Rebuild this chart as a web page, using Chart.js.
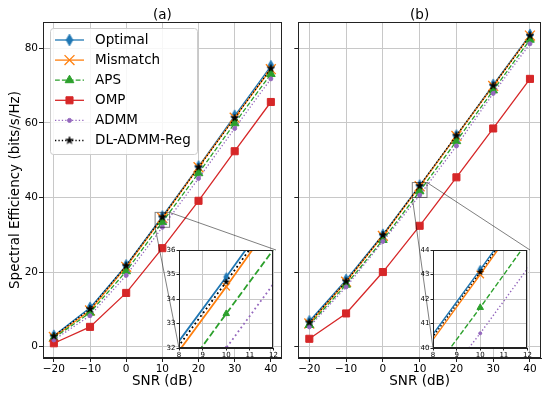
<!DOCTYPE html>
<html>
<head>
<meta charset="utf-8">
<script src="https://cdn.jsdelivr.net/npm/chart.js@4.4.0/dist/chart.umd.min.js"></script>
<style>
  html, body { margin: 0; padding: 0; background: #fff; }
  #wrap { position: relative; width: 550px; height: 395px; overflow: hidden; }
  #wrap canvas { position: absolute; }
</style>
</head>
<body>
<div id="wrap">
  <canvas id="mainA" width="290" height="395" style="left:0;top:0"></canvas>
  <canvas id="mainB" width="260" height="395" style="left:290px;top:0"></canvas>
  <canvas id="insetA" width="121" height="126" style="left:159px;top:240px"></canvas>
  <canvas id="insetB" width="121" height="126" style="left:413px;top:240px"></canvas>
</div>
<script>
var snr = [-20, -10, 0, 10, 20, 30, 40];
var xTicks = [-20, -10, 0, 10, 20, 30, 40];
var yTicks = [0, 20, 40, 60, 80];
var insetXTicks = [8, 9, 10, 11, 12];
var insetYTicksA = [32, 33, 34, 35, 36];
var insetYTicksB = [40, 41, 42, 43, 44];
var labels = ['Optimal', 'Mismatch', 'APS', 'OMP', 'ADMM', 'DL-ADMM-Reg'];

// panel (a)
var optimalA  = [2.9, 10.4, 21.8, 34.9, 48.3, 61.9, 75.2];
var mismatchA = [2.6, 9.7, 21.4, 34.5, 48.1, 61.4, 74.4];
var apsA      = [2.3, 9.1, 20.2, 33.4, 46.5, 59.9, 73.1];
var ompA      = [0.9, 5.3, 14.4, 26.4, 39.1, 52.4, 65.6];
var admmA     = [1.8, 8.3, 19.1, 32.0, 45.1, 58.5, 71.8];
var dlA       = [2.8, 10.1, 21.7, 34.7, 48.1, 61.3, 74.6];

// panel (b)
var optimalB  = [6.8, 17.9, 30.0, 43.2, 56.6, 70.2, 83.6];
var mismatchB = [6.2, 17.4, 29.7, 43.0, 56.5, 69.9, 83.4];
var apsB      = [5.8, 16.6, 28.6, 41.65, 55.1, 68.7, 82.3];
var ompB      = [2.1, 8.9, 20.0, 32.4, 45.4, 58.5, 71.8];
var admmB     = [5.3, 16.0, 28.2, 40.6, 53.8, 67.9, 81.2];
var dlB       = [6.5, 17.5, 29.9, 43.1, 56.6, 70.0, 83.4];

var FONT = 'DejaVu Sans';
Chart.defaults.font.family = FONT;

var styles = [
  {color: '#1f77b4', dash: [], marker: 'diamond', r: 6},
  {color: '#ff7f0e', dash: [], marker: 'crossRot', r: 7},
  {color: '#2ca02c', dash: [4.8, 2.1], marker: 'triangle', r: 5},
  {color: '#d62728', dash: [], marker: 'rect', r: 5},
  {color: '#9467bd', dash: [1.3, 2.1], marker: 'circle', r: 2},
  {color: '#000000', dash: [1.3, 2.1], marker: 'star', r: 4}
];

// filled thin diamond / star as small canvases
function markerImage(kind, color, s){
  var c = document.createElement('canvas');
  c.width = c.height = Math.ceil(s * 2 + 2);
  var g = c.getContext('2d');
  var m = c.width / 2;
  g.fillStyle = color;
  g.strokeStyle = color;
  g.lineWidth = 0.6;
  g.beginPath();
  if(kind == 'diamond'){
    g.moveTo(m, m - s); g.lineTo(m + s * 0.58, m); g.lineTo(m, m + s); g.lineTo(m - s * 0.58, m);
  } else {
    for(var i = 0; i < 10; i++){
      var a = -Math.PI / 2 + i * Math.PI / 5;
      var rr = i % 2 ? s * 0.4 : s;
      g.lineTo(m + rr * Math.cos(a), m + rr * Math.sin(a));
    }
  }
  g.closePath();
  g.fill();
  g.stroke();
  return c;
}

function pointFor(st, k){
  if(st.marker == 'diamond' || st.marker == 'star') return markerImage(st.marker, st.color, st.r * k);
  return st.marker;
}

function buildSets(series, k, lw, clip){
  return series.map(function(vals, i){
    var st = styles[i];
    return {
      label: labels[i],
      data: snr.map(function(x, j){ return {x: x, y: vals[j]}; }),
      borderColor: st.color,
      backgroundColor: st.color,
      borderWidth: lw,
      borderDash: st.dash.map(function(d){ return d * lw / 1.3; }),
      pointStyle: pointFor(st, k),
      pointRadius: st.r * k,
      pointBorderWidth: st.marker == 'crossRot' ? 1.3 : 1,
      pointBorderColor: st.color,
      pointBackgroundColor: st.color,
      tension: 0,
      order: series.length - i,
      clip: clip
    };
  });
}

var framePlugin = {
  id: 'frame',
  afterDatasetsDraw: function(chart){
    var a = chart.chartArea, ctx = chart.ctx;
    ctx.save();
    ctx.strokeStyle = '#222';
    ctx.lineWidth = 1;
    ctx.strokeRect(Math.round(a.left) + 0.5, Math.round(a.top) + 0.5, Math.round(a.right - a.left) - 1, Math.round(a.bottom - a.top) - 1);
    ctx.restore();
  }
};

var whiteBg = {
  id: 'whiteBg',
  beforeDraw: function(chart){
    var a = chart.chartArea;
    chart.ctx.save();
    chart.ctx.fillStyle = '#fff';
    chart.ctx.fillRect(a.left, a.top, a.right - a.left, a.bottom - a.top);
    chart.ctx.restore();
  }
};

// zoom box + connector lines to the inset corners
function zoomPlugin(box, offsetX, yr){
  return {
    id: 'zoomMark',
    afterDatasetsDraw: function(chart){
      var x = chart.scales.x, y = chart.scales.y, ctx = chart.ctx;
      var x0 = x.getPixelForValue(8), x1 = x.getPixelForValue(12);
      var y0 = y.getPixelForValue(yr[0]), y1 = y.getPixelForValue(yr[1]);
      ctx.save();
      ctx.strokeStyle = 'rgba(0,0,0,0.5)';
      ctx.lineWidth = 1;
      ctx.strokeRect(x0, y1, x1 - x0, y0 - y1);
      ctx.beginPath();
      ctx.moveTo(x0, y0); ctx.lineTo(box.left - offsetX, box.top + box.height);
      ctx.moveTo(x1, y1); ctx.lineTo(box.left + box.width - offsetX, box.top);
      ctx.stroke();
      ctx.restore();
    }
  };
}

function titlePlugin(text){
  return {
    id: 'panelTitle',
    afterDraw: function(chart){
      var a = chart.chartArea, ctx = chart.ctx;
      ctx.save();
      ctx.font = '13.5px "' + FONT + '"';
      ctx.fillStyle = '#000';
      ctx.textAlign = 'center';
      ctx.textBaseline = 'middle';
      ctx.fillText(text, (a.left + a.right) / 2, 15);
      ctx.restore();
    }
  };
}

var legendPlugin = {
  id: 'boxLegend',
  afterDraw: function(chart){
    var ctx = chart.ctx;
    ctx.save();
    ctx.fillStyle = 'rgba(255,255,255,0.85)';
    ctx.strokeStyle = '#cccccc';
    ctx.lineWidth = 1;
    ctx.beginPath();
    ctx.roundRect(50.5, 28.5, 147, 126, 3);
    ctx.fill();
    ctx.stroke();
    ctx.font = '13.5px "' + FONT + '"';
    ctx.textBaseline = 'middle';
    chart.data.datasets.forEach(function(ds, i){
      var yy = 40 + i * 20.1;
      ctx.strokeStyle = ds.borderColor;
      ctx.lineWidth = ds.borderWidth;
      ctx.setLineDash(ds.borderDash);
      ctx.beginPath();
      ctx.moveTo(55, yy); ctx.lineTo(84, yy);
      ctx.stroke();
      ctx.setLineDash([]);
      ctx.fillStyle = ds.pointBackgroundColor;
      ctx.lineWidth = ds.pointBorderWidth;
      Chart.helpers.drawPoint(ctx, {pointStyle: ds.pointStyle, radius: ds.pointRadius, borderWidth: ds.pointBorderWidth, rotation: 0}, 69.5, yy);
      ctx.fillStyle = '#000';
      ctx.fillText(ds.label, 95, yy);
    });
    ctx.restore();
  }
};

function mainChart(id, series, o){
  var grid = {color: '#c8c8c8', lineWidth: 1, tickColor: '#222', tickLength: 4, tickWidth: 1};
  var plugins = [framePlugin, zoomPlugin(o.box, o.offsetX, o.zoomY), titlePlugin(o.title)];
  if(o.legend) plugins.push(legendPlugin);
  return new Chart(document.getElementById(id), {
    type: 'line',
    data: { datasets: buildSets(series, 1, 1.3, undefined) },
    options: {
      responsive: false,
      animation: false,
      devicePixelRatio: 1,
      layout: { padding: {top: 22, right: o.padRight, left: 0, bottom: 0} },
      plugins: { legend: {display: false}, tooltip: {enabled: false} },
      scales: {
        x: {
          type: 'linear', min: -23, max: 43,
          afterBuildTicks: function(s){ s.ticks = xTicks.map(function(v){ return {value: v}; }); },
          afterFit: function(s){ s.height = 37; },
          grid: grid,
          border: {color: '#222', width: 1},
          ticks: {
            font: {size: 10.5}, color: '#000', padding: 1, maxRotation: 0,
            callback: function(v){ return String(v).replace('-', '\u2212'); }
          },
          title: {display: true, text: 'SNR (dB)', color: '#000', font: {size: 13.5}, padding: {top: 0, bottom: 5}}
        },
        y: {
          type: 'linear', min: -3.05, max: 87.05,
          afterBuildTicks: function(s){ s.ticks = yTicks.map(function(v){ return {value: v}; }); },
          afterFit: function(s){ s.width = o.yWidth; },
          grid: grid,
          border: {color: '#222', width: 1},
          ticks: {display: o.yLabels, font: {size: 10.5}, color: '#000', padding: 1},
          title: {display: o.yLabels, text: 'Spectral Efficiency (bits/s/Hz)', color: '#000', font: {size: 13.5}, padding: {top: 7, bottom: 0}}
        }
      }
    },
    plugins: plugins
  });
}

function insetChart(id, series, yr, yt, lw){
  var grid = {color: '#c8c8c8', lineWidth: 1, tickColor: '#222', tickLength: 2.5, tickWidth: 1};
  return new Chart(document.getElementById(id), {
    type: 'line',
    data: { datasets: buildSets(series, 0.75, lw, 0) },
    options: {
      responsive: false,
      animation: false,
      devicePixelRatio: 1,
      layout: { padding: {top: 10, right: 4, left: 0, bottom: 0} },
      plugins: { legend: {display: false}, tooltip: {enabled: false} },
      scales: {
        x: {
          type: 'linear', min: 8, max: 12,
          afterBuildTicks: function(s){ s.ticks = insetXTicks.map(function(v){ return {value: v}; }); },
          afterFit: function(s){ s.height = 18; },
          grid: grid,
          border: {color: '#222', width: 1},
          ticks: {font: {size: 7}, color: '#000', padding: 0, maxRotation: 0}
        },
        y: {
          type: 'linear', min: yr[0], max: yr[1],
          afterBuildTicks: function(s){ s.ticks = yt.map(function(v){ return {value: v}; }); },
          afterFit: function(s){ s.width = 20; },
          grid: grid,
          border: {color: '#222', width: 1},
          ticks: {font: {size: 7}, color: '#000', padding: 1}
        }
      }
    },
    plugins: [whiteBg, framePlugin]
  });
}

var seriesA = [optimalA, mismatchA, apsA, ompA, admmA, dlA];
var seriesB = [optimalB, mismatchB, apsB, ompB, admmB, dlB];
var boxA = {left: 179, top: 250, width: 97, height: 98};
var boxB = {left: 433, top: 250, width: 97, height: 98};

mainChart('mainA', seriesA, {title: '(a)', padRight: 3, yWidth: 43, yLabels: true, legend: true, box: boxA, offsetX: 0, zoomY: [32, 36]});
mainChart('mainB', seriesB, {title: '(b)', padRight: 9, yWidth: 6, yLabels: false, legend: false, box: boxB, offsetX: 290, zoomY: [40, 44]});
insetChart('insetA', seriesA, [32, 36], insetYTicksA, 1.8);
insetChart('insetB', seriesB, [40, 44], insetYTicksB, 1.4);
</script>
</body>
</html>
